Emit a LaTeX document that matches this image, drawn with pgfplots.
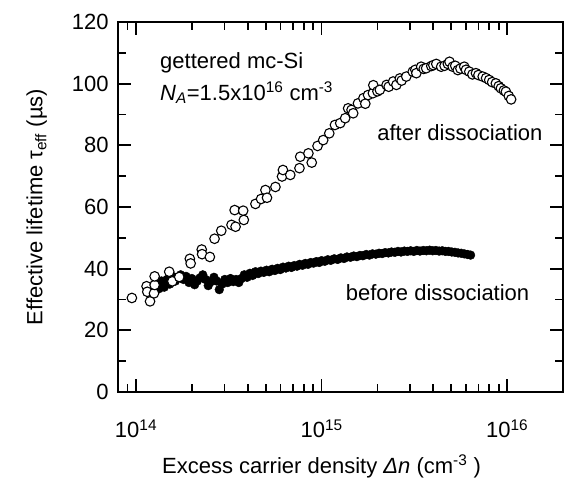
\documentclass[border=0pt]{standalone}
\usepackage{fontspec}
\setmainfont{Liberation Sans}
\usepackage{pgfplots}
\pgfplotsset{compat=1.18}
\begin{document}
\fontsize{22bp}{26bp}\selectfont
\begin{tikzpicture}
\begin{axis}[
 scale only axis, width=445bp, height=370bp,
 xmode=log, xmin=8e13, xmax=2e16, ymin=0, ymax=120,
 xtick={1e14,1e15,1e16},
 xticklabels={10\textsuperscript{14},10\textsuperscript{15},10\textsuperscript{16}},
 minor xtick={9e13,2e14,3e14,4e14,5e14,6e14,7e14,8e14,9e14,2e15,3e15,4e15,5e15,6e15,7e15,8e15,9e15},
 ytick={0,20,40,60,80,100,120},
 yticklabels={0,20,40,60,80,100,120},
 minor ytick={10,30,50,70,90,110},
 axis line style={line width=2bp},
 major tick length=13bp, minor tick length=8bp,
 every tick/.style={black, line width=1.8bp},
 tick align=inside,
 xticklabel style={yshift=-20bp},
 yticklabel style={xshift=-2bp},
 xlabel style={xshift=-19bp, yshift=-2bp},
 ylabel style={yshift=10bp},
 clip=false,
 xlabel={Excess carrier density \textit{Δn} (cm\textsuperscript{-3} )},
 ylabel={Effective lifetime τ\textsubscript{eff} (µs)},
]
\addplot[only marks, mark=*, mark size=4.4bp, mark options={fill=black, draw=black}] coordinates {
(1.20e14,34.0)(1.24e14,33.0)(1.28e14,35.5)(1.33e14,33.5)(1.37e14,36.0)(1.42e14,34.0)
(1.47e14,36.5)(1.52e14,35.0)(1.57e14,37.5)(1.63e14,36.0)(1.68e14,37.0)(1.74e14,38.0)
(1.80e14,36.5)(1.86e14,37.5)(1.93e14,35.5)(2.00e14,36.8)(2.07e14,34.8)(2.14e14,36.0)
(2.21e14,37.0)(2.29e14,38.0)(2.37e14,36.5)(2.45e14,34.5)(2.54e14,35.8)(2.63e14,37.2)
(2.72e14,36.0)(2.81e14,33.2)(2.91e14,35.0)(3.01e14,36.5)(3.12e14,35.5)(3.23e14,36.8)
(3.34e14,35.8)(3.46e14,36.5)(3.58e14,35.5)(3.70e14,36.8)(3.83e14,38.0)(3.97e14,37.2)
(4.11e14,38.5)(4.25e14,37.8)(4.40e14,39.0)(4.55e14,38.4)(4.71e14,39.2)(4.88e14,38.8)
(5.05e14,39.5)(5.22e14,39.0)(5.41e14,39.8)(5.60e14,39.4)(5.79e14,40.1)(5.99e14,39.7)
(6.20e14,40.5)(6.42e14,40.2)(6.65e14,40.8)(6.88e14,40.4)(7.12e14,41.0)(7.37e14,40.8)
(7.62e14,41.4)(7.89e14,41.1)(8.17e14,41.7)(8.45e14,41.4)(8.75e14,42.0)(9.05e14,41.8)
(9.37e14,42.3)(9.70e14,42.0)
(1.00e15,42.6)(1.04e15,42.4)(1.08e15,42.9)(1.12e15,42.7)(1.17e15,43.2)(1.22e15,43.0)
(1.27e15,43.5)(1.32e15,43.3)(1.37e15,43.8)(1.43e15,43.7)(1.49e15,44.1)(1.55e15,43.9)
(1.61e15,44.3)(1.67e15,44.2)(1.74e15,44.6)(1.81e15,44.4)(1.88e15,44.8)(1.96e15,44.7)
(2.04e15,45.0)(2.12e15,44.9)(2.20e15,45.2)(2.29e15,45.1)(2.38e15,45.4)(2.48e15,45.3)
(2.58e15,45.6)(2.68e15,45.4)(2.79e15,45.7)(2.90e15,45.6)(3.02e15,45.8)(3.14e15,45.6)
(3.26e15,45.9)(3.39e15,45.7)(3.53e15,45.9)(3.67e15,45.8)(3.82e15,46.0)(3.97e15,45.8)
(4.13e15,45.9)(4.30e15,45.7)(4.47e15,45.8)(4.65e15,45.6)(4.83e15,45.6)(5.03e15,45.4)
(5.23e15,45.3)(5.44e15,45.1)(5.65e15,45.0)(5.88e15,44.8)(6.12e15,44.6)(6.35e15,44.4)
};
\addplot[only marks, mark=*, mark size=4.8bp, mark options={fill=white, draw=black, line width=1.1bp}] coordinates {
(9.5e13,30.5)(1.14e14,34.3)(1.15e14,32.5)(1.19e14,29.4)(1.25e14,32.0)(1.26e14,34.7)(1.26e14,37.5)
(1.51e14,39.0)(1.57e14,35.9)(1.71e14,37.3)(1.95e14,43.2)(1.97e14,41.7)(2.26e14,46.2)(2.27e14,44.7)
(2.50e14,43.8)(2.65e14,49.7)(2.88e14,52.3)(3.27e14,54.2)(3.40e14,59.0)(3.44e14,53.6)(3.78e14,58.8)
(3.81e14,55.8)(4.40e14,61.0)(4.72e14,62.6)(4.98e14,65.5)(5.08e14,63.0)(5.64e14,66.5)(6.12e14,69.9)
(6.19e14,72.0)(6.78e14,70.4)(7.60e14,72.6)(7.67e14,76.3)(8.49e14,77.4)(8.85e14,74.4)(9.51e14,79.8)
(1.02e15,81.7)(1.10e15,83.9)(1.18e15,86.6)(1.26e15,87.2)(1.34e15,88.8)(1.39e15,92.0)(1.45e15,91.5)
(1.48e15,90.4)(1.57e15,93.6)(1.68e15,95.3)(1.72e15,93.5)(1.78e15,96.3)(1.89e15,96.9)(1.90e15,99.5)
(2.00e15,97.5)(2.06e15,98.0)(2.24e15,99.6)(2.30e15,99.0)(2.43e15,100.7)(2.53e15,99.6)(2.64e15,101.7)
(2.70e15,101.0)(2.86e15,102.3)(3.10e15,103.9)(3.20e15,104.5)(3.24e15,103.4)(3.44e15,105.5)(3.55e15,104.8)
(3.66e15,105.0)(3.90e15,105.7)(4.00e15,106.0)(4.15e15,106.4)(4.41e15,105.5)(4.60e15,105.8)(4.79e15,106.4)
(4.89e15,107.1)(5.09e15,105.5)(5.25e15,105.8)(5.42e15,104.4)(5.60e15,104.9)(5.87e15,105.5)(6.00e15,104.5)
(6.25e15,103.9)(6.50e15,103.0)(6.79e15,103.4)(7.00e15,102.8)(7.38e15,102.3)(7.70e15,101.8)(8.00e15,101.2)
(8.30e15,100.5)(8.69e15,100.1)(9.00e15,99.2)(9.25e15,98.5)(9.60e15,97.8)(9.84e15,97.4)(1.02e16,96.0)
(1.05e16,94.9)
};
\node[anchor=base west] at (axis cs:1.23e14,105) {gettered mc-Si};
\node[anchor=base west] at (axis cs:1.23e14,94.7) {\textit{N}\textsubscript{\textit{A}}=1.5x10\textsuperscript{16} cm\textsuperscript{-3}};
\node[anchor=base west] at (axis cs:1.82e15,81.7) {after dissociation};
\node[anchor=base west] at (axis cs:1.23e15,29.8) {before dissociation};
\end{axis}
\pgfresetboundingbox
\path[use as bounding box] ([shift={(-118bp,-88bp)}]current axis.south west) rectangle ([shift={(1bp,22bp)}]current axis.north east);
\end{tikzpicture}
\end{document}
